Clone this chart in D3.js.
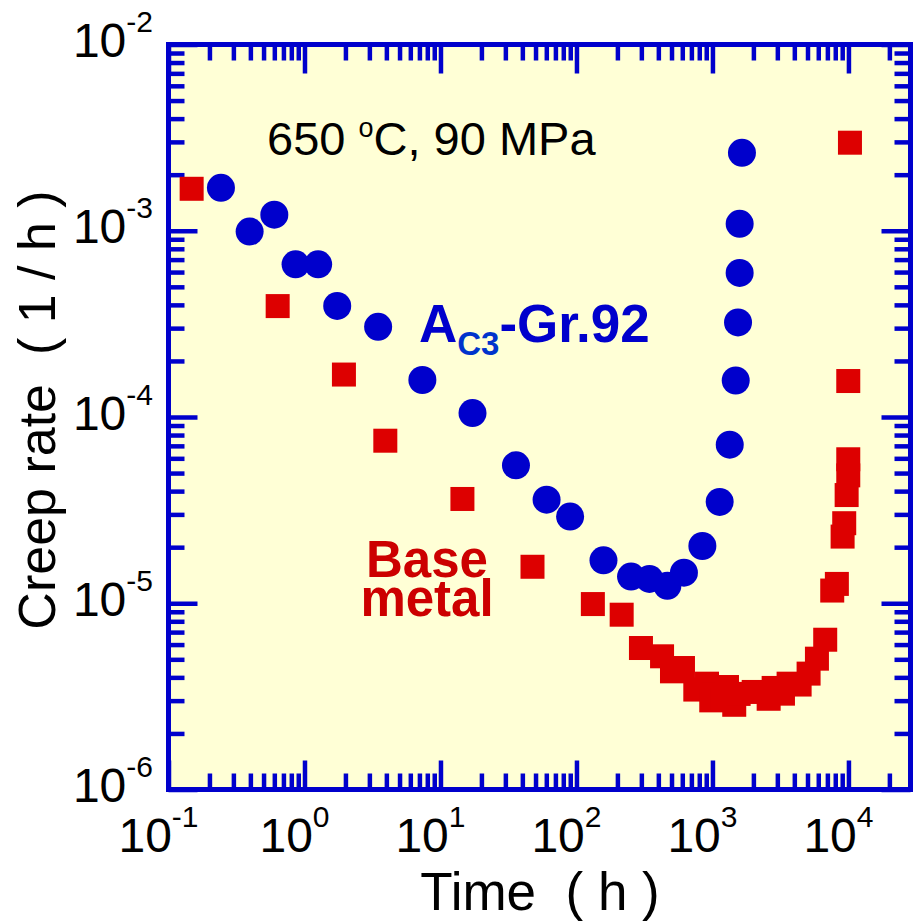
<!DOCTYPE html>
<html><head><meta charset="utf-8">
<script src="https://cdn.jsdelivr.net/npm/d3@7"></script>
<style>
html,body{margin:0;padding:0;background:#fff;}
text{font-family:Arial,"Liberation Sans",Helvetica,sans-serif;}
</style></head>
<body><svg id="c" width="913" height="922"></svg>
<script>
// ---- data ----
const gr92Time = [0.243,0.395,0.60,0.86,1.26,1.74,3.48,7.36,17.2,35.9,60.3,89.8,158,252,344,466,617,843,1130,1340,1483,1542,1585,1585,1648];
const gr92Rate = [1.70e-3,9.9e-4,1.22e-3,6.6e-4,6.6e-4,3.95e-4,3.05e-4,1.58e-4,1.05e-4,5.5e-5,3.6e-5,2.92e-5,1.70e-5,1.39e-5,1.35e-5,1.24e-5,1.46e-5,2.03e-5,3.5e-5,7.1e-5,1.57e-4,3.22e-4,5.94e-4,1.09e-3,2.62e-3];
const baseTime = [0.148,0.635,1.95,3.93,14.5,47.5,132,215,298,426,504,607,748,912,980,1010,1195,1279,1446,1558,2010,2590,2818,3300,3630,4375,5093,5866,6748,7600,8220,9060,9310,9700,9970,9970,9970,10260];
const baseRate = [1.68e-3,3.94e-4,1.69e-4,7.46e-5,3.63e-5,1.57e-5,9.9e-6,8.68e-6,5.75e-6,5.19e-6,4.31e-6,4.49e-6,3.44e-6,3.70e-6,3.01e-6,3.23e-6,3.06e-6,3.55e-6,2.85e-6,3.26e-6,3.34e-6,3.07e-6,3.51e-6,3.27e-6,3.70e-6,3.66e-6,4.19e-6,5.04e-6,6.37e-6,1.17e-5,1.27e-5,2.28e-5,2.69e-5,3.81e-5,4.86e-5,5.93e-5,1.56e-4,2.97e-3];
const xMajor = [0.1,1,10,100,1000,10000];
const xMajorExp = ["-1","0","1","2","3","4"];
const yMajor = [1e-6,1e-5,1e-4,1e-3,1e-2];
const yMajorExp = ["-6","-5","-4","-3","-2"];

// ---- layout ----
const L=168.5, R=910.5, T=44.5, B=789.5;
const BLUE="#0000cc", RED="#dd0000";
const x = d3.scaleLog().domain([0.1, 28600]).range([L, R]);
const y = d3.scaleLog().domain([1e-6, 1e-2]).range([B, T]);
const svg = d3.select("#c");

svg.append("rect").attr("x",L).attr("y",T).attr("width",R-L).attr("height",B-T).attr("fill","#ffffd6");

function minors(lo, hi){
  const out=[];
  for(let e=Math.floor(Math.log10(lo)); e<=Math.ceil(Math.log10(hi)); e++){
    for(let m=2;m<=9;m++){const v=m*Math.pow(10,e); if(v>lo && v<hi) out.push(v);}
  }
  return out;
}
const xMin = minors(0.1, 28600), yMin = minors(1e-6, 1e-2);

function styleAxis(g){
  g.select(".domain").remove();
  g.selectAll("text").remove();
  g.selectAll("line").attr("stroke",BLUE).attr("stroke-width",4.5);
}
svg.append("g").attr("transform",`translate(0,${B})`).call(d3.axisBottom(x).tickValues(xMin).tickSize(-16)).call(styleAxis);
svg.append("g").attr("transform",`translate(0,${B})`).call(d3.axisBottom(x).tickValues(xMajor).tickSize(-29)).call(styleAxis);
svg.append("g").attr("transform",`translate(0,${T})`).call(d3.axisTop(x).tickValues(xMin).tickSize(-16)).call(styleAxis);
svg.append("g").attr("transform",`translate(0,${T})`).call(d3.axisTop(x).tickValues(xMajor).tickSize(-29)).call(styleAxis);
svg.append("g").attr("transform",`translate(${L},0)`).call(d3.axisLeft(y).tickValues(yMin).tickSize(-16)).call(styleAxis);
svg.append("g").attr("transform",`translate(${L},0)`).call(d3.axisLeft(y).tickValues(yMajor).tickSize(-29)).call(styleAxis);
svg.append("g").attr("transform",`translate(${R},0)`).call(d3.axisRight(y).tickValues(yMin).tickSize(-16)).call(styleAxis);
svg.append("g").attr("transform",`translate(${R},0)`).call(d3.axisRight(y).tickValues(yMajor).tickSize(-29)).call(styleAxis);

svg.append("rect").attr("x",L).attr("y",T).attr("width",R-L).attr("height",B-T)
  .attr("fill","none").attr("stroke",BLUE).attr("stroke-width",5);

// tick labels
xMajor.forEach((v,i)=>{
  const t = svg.append("text").attr("x",x(v)-10).attr("y",852).attr("text-anchor","middle")
    .attr("font-size",48).attr("fill","#000");
  t.append("tspan").text("10");
  t.append("tspan").attr("font-size",30).attr("dy",-25).text(xMajorExp[i]);
});
yMajor.forEach((v,i)=>{
  const t = svg.append("text").attr("x",153).attr("y",y(v)+12.5).attr("text-anchor","end")
    .attr("font-size",48).attr("fill","#000");
  t.append("tspan").text("10");
  t.append("tspan").attr("font-size",30).attr("dy",-25).text(yMajorExp[i]);
});

// axis titles
svg.append("text").attr("x",540).attr("y",910).attr("text-anchor","middle").attr("font-size",53)
  .style("white-space","pre").text("Time  ( h )");
svg.append("text").attr("transform","translate(55,410) rotate(-90)").attr("text-anchor","middle").attr("font-size",52)
  .style("white-space","pre").text("Creep rate  ( 1 / h )");

// data
const gData = gr92Time.map((t,i)=>({t, r:gr92Rate[i]}));
const bData = baseTime.map((t,i)=>({t, r:baseRate[i]}));
const S=24;
svg.append("g").selectAll("rect").data(bData).join("rect")
  .attr("x",d=>x(d.t)-S/2).attr("y",d=>y(d.r)-S/2).attr("width",S).attr("height",S).attr("fill",RED);
svg.append("g").selectAll("circle").data(gData).join("circle")
  .attr("cx",d=>x(d.t)).attr("cy",d=>y(d.r)).attr("r",14).attr("fill",BLUE);

// annotations
const a1 = svg.append("text").attr("x",267).attr("y",155).attr("font-size",47).attr("fill","#000");
a1.append("tspan").text("650 ");
a1.append("tspan").attr("font-size",27).attr("dy",-18).text("o");
a1.append("tspan").attr("dy",18).text("C, 90 MPa");

const a2 = svg.append("text").attr("x",419).attr("y",341.5).attr("font-size",53).attr("font-weight","bold").attr("fill",BLUE);
a2.append("tspan").text("A");
a2.append("tspan").attr("font-size",33).attr("dy",13.5).attr("fill","#0033cc").text("C3");
a2.append("tspan").attr("dy",-13.5).text("-Gr.92");

const a3 = svg.append("text").attr("y",577).attr("text-anchor","middle").attr("font-size",51).attr("font-weight","bold").attr("fill","#cc0000");
a3.append("tspan").attr("x",427).text("Base");
a3.append("tspan").attr("x",427).attr("dy",39).text("metal");
</script></body></html>
